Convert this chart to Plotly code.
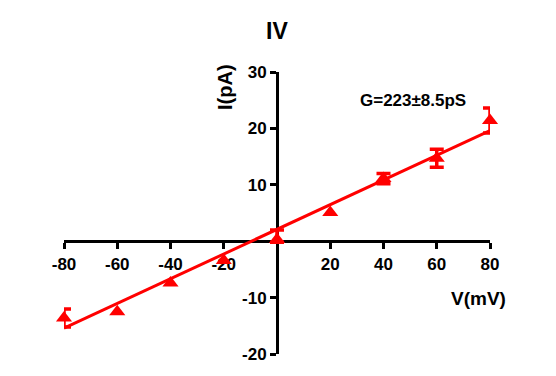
import plotly.graph_objects as go

voltage = [-80, -60, -40, -20, 0, 20, 40, 60, 80]
current = [-13.6, -12.5, -7.4, -3.4, 0.3, 5.1, 11.1, 14.7, 21.4]
current_err_plus = [1.6, None, None, None, 1.7, None, 0.9, 1.6, 2.2]
current_err_minus = [1.6, None, None, None, 0.5, None, 0.9, 1.6, 2.2]
fit_v = [-80, 80]
fit_i = [-15.4, 19.6]

x_ticks = [-80, -60, -40, -20, 20, 40, 60, 80]
y_ticks = [-20, -10, 10, 20, 30]

RED = "#ff0000"
FONT = "Liberation Sans"

has_err = [e is not None for e in current_err_plus]
err_v = [v for v, h in zip(voltage, has_err) if h]
err_i = [c for c, h in zip(current, has_err) if h]
err_p = [e for e in current_err_plus if e is not None]
err_m = [e for e in current_err_minus if e is not None]

fig = go.Figure()
fig.add_trace(go.Scatter(x=err_v, y=err_i, mode="markers",
                         marker=dict(size=1, color=RED, opacity=0),
                         error_y=dict(type="data", array=err_p, arrayminus=err_m,
                                      symmetric=False, color=RED,
                                      thickness=3.5, width=7),
                         cliponaxis=False, showlegend=False))
fig.add_trace(go.Scatter(x=voltage, y=current, mode="markers",
                         marker=dict(symbol="triangle-up", size=14, color=RED,
                                     line=dict(width=0)),
                         cliponaxis=False, showlegend=False))
fig.add_trace(go.Scatter(x=fit_v, y=fit_i, mode="lines",
                         line=dict(color=RED, width=3), cliponaxis=False,
                         showlegend=False))

fig.update_layout(
    width=556, height=376,
    margin=dict(l=56, r=74, t=64, b=30),
    plot_bgcolor="white", paper_bgcolor="white",
    font=dict(family=FONT, color="black"),
    xaxis=dict(range=[-80, 80], anchor="free", position=0.4,
               showgrid=False, zeroline=False, showline=True,
               linecolor="black", linewidth=3, layer="below traces",
               ticks="outside", ticklen=6, tickwidth=3, tickcolor="black",
               tickvals=x_ticks, ticktext=[str(t) for t in x_ticks],
               tickfont=dict(size=17, family=FONT, weight="bold")),
    yaxis=dict(range=[-20, 30], anchor="free", position=0.5,
               showgrid=False, zeroline=False, showline=True,
               linecolor="black", linewidth=3, layer="below traces",
               ticks="outside", ticklen=6, tickwidth=3, tickcolor="black",
               tickvals=y_ticks, ticktext=[str(t) for t in y_ticks],
               tickfont=dict(size=17, family=FONT, weight="bold")),
    annotations=[
        dict(text="IV", x=0.5, y=1, xref="paper", yref="paper",
             yanchor="bottom", yshift=26, showarrow=False,
             font=dict(size=23, weight="bold")),
        dict(text="I(pA)", x=0.5, y=30, xref="paper", yref="y",
             xshift=-52, yshift=-15, textangle=-90, showarrow=False,
             font=dict(size=20, weight="bold")),
        dict(text="V(mV)", x=80, y=0, xref="x", yref="y",
             xshift=-12, yshift=-57, showarrow=False,
             font=dict(size=19, weight="bold")),
        dict(text="G=223±8.5pS", x=51, y=25, xref="x", yref="y",
             showarrow=False, font=dict(size=17, weight="bold")),
    ],
)

fig.write_html("out.html")
